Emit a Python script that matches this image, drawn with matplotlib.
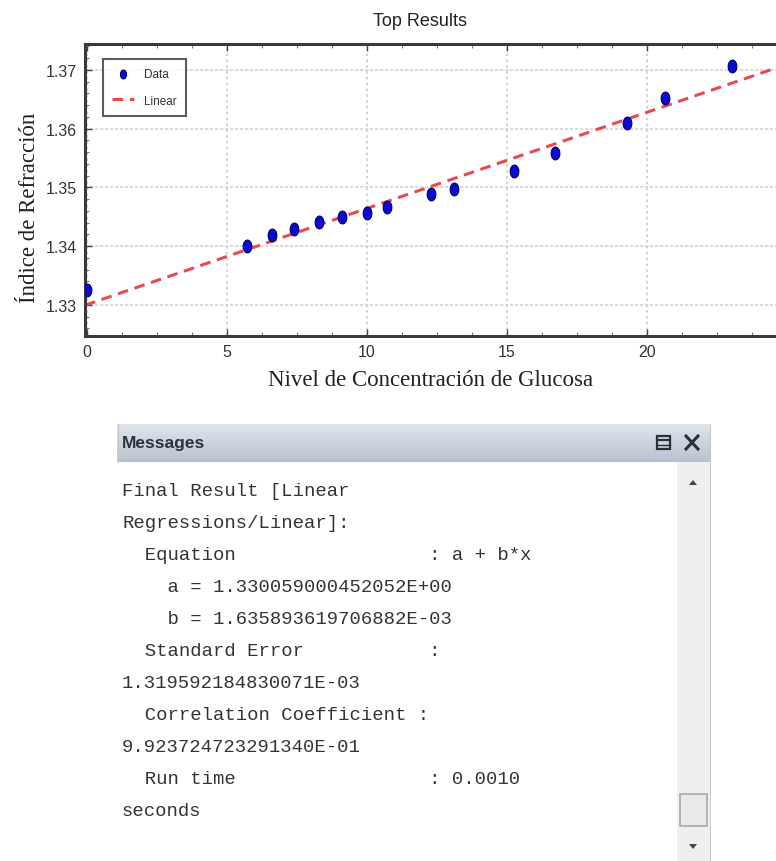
import numpy as np
import matplotlib
matplotlib.use("Agg")
import matplotlib.pyplot as plt
from matplotlib import font_manager
from matplotlib.path import Path
from matplotlib.ticker import MultipleLocator
from matplotlib.patches import Rectangle, Polygon

# ---------------- data ----------------
glucose = [0.0, 5.7, 6.6, 7.4, 8.3, 9.1, 10.0, 10.7, 12.3, 13.1, 15.25, 16.7, 19.3, 20.65, 23.05]
refraction = [1.3325, 1.3400, 1.3419, 1.3429, 1.3441, 1.3449, 1.3456, 1.3467, 1.3489, 1.3497,
              1.3528, 1.3558, 1.3609, 1.3652, 1.3707]
fit_a = 1.330059000452052
fit_b = 1.635893619706882e-03
x_ticks = [0, 5, 10, 15, 20]
y_ticks = [1.33, 1.34, 1.35, 1.36, 1.37]
title = "Top Results"
xlabel = "Nivel de Concentración de Glucosa"
ylabel = "Índice de Refracción"
legend_labels = ["Data", "Linear"]
message_lines = [
    "Final Result [Linear",
    "Regressions/Linear]:",
    "  Equation                 : a + b*x",
    "    a = 1.330059000452052E+00",
    "    b = 1.635893619706882E-03",
    "  Standard Error           :",
    "1.319592184830071E-03",
    "  Correlation Coefficient :",
    "9.923724723291340E-01",
    "  Run time                 : 0.0010",
    "seconds",
]

names = {f.name for f in font_manager.fontManager.ttflist}
narrow = "Liberation Sans Narrow" if "Liberation Sans Narrow" in names else "Liberation Sans"
serif = "Liberation Serif"
mono = "Liberation Mono"

W, H = 776, 862
fig = plt.figure(figsize=(W / 100, H / 100), dpi=100)


def fx(px):
    return px / W


def fy(py):
    return 1 - py / H


# ---------------- chart ----------------
ax_left, ax_right, ax_top, ax_bot = 85, 787, 45, 337
ax = fig.add_axes([fx(ax_left), fy(ax_bot), (ax_right - ax_left) / W, (ax_bot - ax_top) / H])
ax.set_xlim(-0.07, 25)
ax.set_ylim(1.3247, 1.3744)

xs = np.array(ax.get_xlim())
ax.plot(xs, fit_a + fit_b * xs, linestyle=(0, (3.5, 2.2)), color="#e84a50", lw=2.2,
        label=legend_labels[1], zorder=2)

theta = np.linspace(0, 2 * np.pi, 60)
ell = Path(np.column_stack([0.68 * np.cos(theta), np.sin(theta)]), closed=True)
ax.scatter(glucose, refraction, marker=ell, s=85, facecolor="#0a0ad0", edgecolor="#000070",
           linewidth=0.8, label=legend_labels[0], zorder=3)

ax.set_xticks(x_ticks)
ax.set_yticks(y_ticks)
ax.set_xticklabels([str(t) for t in x_ticks])
ax.set_yticklabels([f"{t:.2f}" for t in y_ticks])
ax.xaxis.set_minor_locator(MultipleLocator(1.25))
ax.yaxis.set_minor_locator(MultipleLocator(0.002))
ax.tick_params(which="major", direction="in", length=5, width=1, colors="#444444",
               labelsize=11.5, top=True, pad=6)
ax.tick_params(which="minor", direction="in", length=3, width=0.8, colors="#777777", top=True)
for lab in ax.get_xticklabels() + ax.get_yticklabels():
    lab.set_fontfamily(narrow)
    lab.set_color("#333333")

ax.grid(True, which="major", axis="y", color="#d4d4d4", linestyle=(0, (2, 1)), lw=1.2)
ax.grid(True, which="major", axis="x", color="#c8c8c8", linestyle=(0, (1.5, 2)), lw=1.2)
ax.set_axisbelow(True)

for side in ["left", "bottom", "top"]:
    ax.spines[side].set_color("#3a3a3a")
    ax.spines[side].set_linewidth(2.2)
ax.spines["right"].set_visible(False)

fig.text(fx(420), fy(22), title, fontfamily=narrow, fontsize=13, color="#222222",
         ha="center", va="center")
fig.text(fx(431), fy(381), xlabel, fontfamily=serif, fontsize=16.5, color="#222222",
         ha="center", va="center")
fig.text(fx(30), fy(208), ylabel, fontfamily=serif, fontsize=16.5, color="#222222",
         ha="center", va="center", rotation=90)

handles, labels = ax.get_legend_handles_labels()
order = [labels.index(l) for l in legend_labels]
leg = ax.legend([handles[i] for i in order], [labels[i] for i in order],
                loc="upper left",
                bbox_to_anchor=((103 - ax_left) / (ax_right - ax_left), (ax_bot - 60) / (ax_bot - ax_top)),
                borderaxespad=0, prop={"family": narrow, "size": 8.5}, labelspacing=1.2,
                handlelength=1.8, handletextpad=0.9, borderpad=0.8, fancybox=False,
                markerscale=0.7)
leg.get_frame().set_edgecolor("#333333")
leg.get_frame().set_linewidth(1.5)
for t in leg.get_texts():
    t.set_color("#333333")

# ---------------- message panel ----------------
pL, pR, pT, pB = 117, 711, 425, 862
pax = fig.add_axes([fx(pL), 0, (pR - pL) / W, (pB - pT) / H])
pax.set_xlim(pL, pR)
pax.set_ylim(pB, pT)
pax.axis("off")

hdr_bot = 463
grad = np.linspace(0, 1, 50).reshape(-1, 1)
top_c = np.array([0.88, 0.90, 0.93])
bot_c = np.array([0.72, 0.76, 0.81])
img = top_c[None, None, :] * (1 - grad[:, :, None]) + bot_c[None, None, :] * grad[:, :, None]
pax.imshow(img, extent=(pL, pR, hdr_bot, pT), aspect="auto", zorder=1)
pax.text(122, 444, "Messages", fontfamily=narrow, fontsize=12.5, color="#2c3340",
         fontweight="bold", ha="left", va="center", zorder=3)

# window icon
pax.add_patch(Rectangle((657, 437), 13, 13, facecolor="none", edgecolor="#2b2f38", lw=1.6, zorder=3))
pax.plot([657, 670], [441, 441], color="#2b2f38", lw=1.6, zorder=3)
pax.plot([657, 670], [445.5, 445.5], color="#2b2f38", lw=1.0, zorder=3)
# close icon
pax.plot([686, 698], [437, 450], color="#2b2f38", lw=2.2, zorder=3)
pax.plot([686, 698], [450, 437], color="#2b2f38", lw=2.2, zorder=3)

# scrollbar
pax.add_patch(Rectangle((677, hdr_bot), pR - 677, pB - hdr_bot, facecolor="#efefef",
                        edgecolor="none", zorder=1))
pax.add_patch(Rectangle((680, 795), 27, 32, facecolor="#e9e9e9", edgecolor="#a8a8a8", lw=1.2, zorder=2))
pax.add_patch(Polygon([(689, 486), (697, 486), (693, 481)], closed=True, facecolor="#444444",
                      edgecolor="none", zorder=2))
pax.add_patch(Polygon([(689, 845), (697, 845), (693, 850)], closed=True, facecolor="#444444",
                      edgecolor="none", zorder=2))
pax.plot([pR - 0.5, pR - 0.5], [pT, pB], color="#c0c0c0", lw=1.2, zorder=3)
pax.plot([pL + 0.5, pL + 0.5], [pT, hdr_bot], color="#c8c8c8", lw=1.0, zorder=3)

line_y0, line_dy = 492, 32.0
for i, line in enumerate(message_lines):
    pax.text(122, line_y0 + i * line_dy, line, fontfamily=mono, fontsize=13.6, color="#333333",
             ha="left", va="center", zorder=3)

fig.savefig("out.png", dpi=100)
